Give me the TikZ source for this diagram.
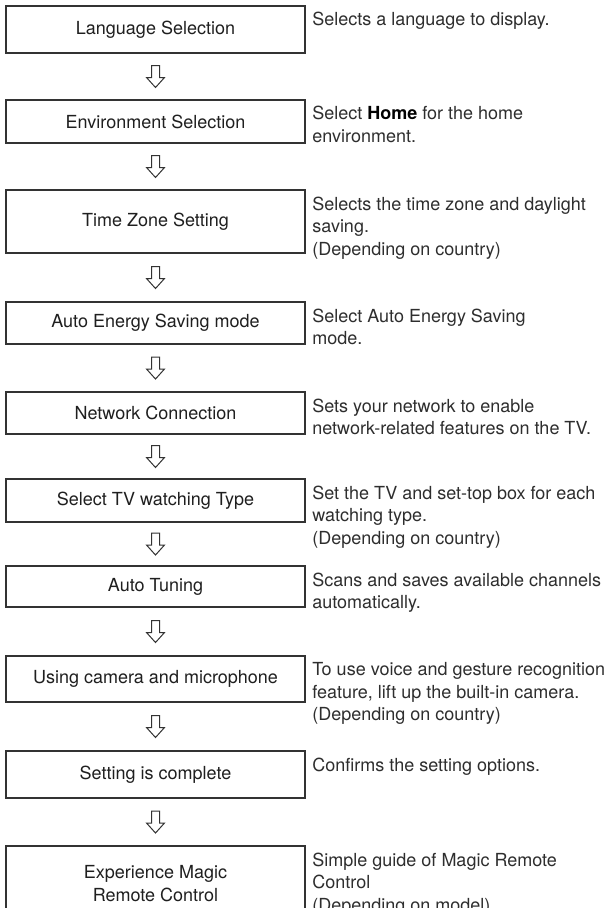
\documentclass[tikz,border=0pt]{standalone}
\usepackage{fontspec}
\setmainfont{TeX Gyre Heros}
\usetikzlibrary{calc}
\tikzset{
	stage/.style={draw=black!80, line width=1.3pt, minimum width=299pt, inner sep=0pt, align=center, text=black!88, font=\fontsize{18}{23}\selectfont},
	note/.style={anchor=north west, inner sep=0pt, align=left, text=black!82, font=\fontsize{18}{22.5}\selectfont, xshift=6.5pt, yshift=-7pt},
	hollowarrow/.pic={\draw[line width=1pt, color=black!80, fill=white, line join=miter] (-4,-11) -- (4,-11) -- (4,1) -- (9,1) -- (0,11) -- (-9,1) -- (-4,1) -- cycle;}
}
\def\flowarrow(#1)(#2){\path ($(#1.south)!0.5!(#2.north)$) pic {hollowarrow};}

\begin{document}
\begin{tikzpicture}[x=1pt, y=-1pt]
			%%%%% START %%%%%
			
			\useasboundingbox (0, 0) rectangle (615, 908);
			\clip (0, 0) rectangle (615, 908);
			\fill[white] (0, 0) rectangle (615, 908);
			
			\node[stage, minimum height=47pt] (lang) at (155.5, 29.5) {Language Selection};
			\node[note] (langnote) at (lang.north east) {Selects a language to display.};
			
			\node[stage, minimum height=43pt] (env) at (155.5, 121.5) {Environment Selection};
			\node[note] (envnote) at (env.north east) {Select {\color{black}\bfseries Home} for the home\\environment.};
			
			\node[stage, minimum height=63pt] (zone) at (155.5, 221.5) {Time Zone Setting};
			\node[note] (zonenote) at (zone.north east) {Selects the time zone and daylight\\saving.\\(Depending on country)};
			
			\node[stage, minimum height=42pt] (energy) at (155.5, 323) {Auto Energy Saving mode};
			\node[note] (energynote) at (energy.north east) {Select Auto Energy Saving\\mode.};
			
			\node[stage, minimum height=42pt] (net) at (155.5, 413) {Network Connection};
			\node[note] (netnote) at (net.north east) {Sets your network to enable\\network-related features on the TV.};
			
			\node[stage, minimum height=43pt] (watch) at (155.5, 500.5) {Select TV watching Type};
			\node[note] (watchnote) at (watch.north east) {Set the TV and set-top box for each\\watching type.\\(Depending on country)};
			
			\node[stage, minimum height=41pt] (tune) at (155.5, 586.5) {Auto Tuning};
			\node[note] (tunenote) at (tune.north east) {Scans and saves available channels\\automatically.};
			
			\node[stage, minimum height=46pt] (cam) at (155.5, 679) {Using camera and microphone};
			\node[note] (camnote) at (cam.north east) {To use voice and gesture recognition\\feature, lift up the built-in camera.\\(Depending on country)};
			
			\node[stage, minimum height=47pt] (done) at (155.5, 774.5) {Setting is complete};
			\node[note] (donenote) at (done.north east) {Confirms the setting options.};
			
			\node[stage, minimum height=75pt] (magic) at (155.5, 883.5) {Experience Magic\\Remote Control};
			\node[note] (magicnote) at (magic.north east) {Simple guide of Magic Remote\\Control\\(Depending on model)};
			
			\flowarrow(lang)(env);
			\flowarrow(env)(zone);
			\flowarrow(zone)(energy);
			\flowarrow(energy)(net);
			\flowarrow(net)(watch);
			\flowarrow(watch)(tune);
			\flowarrow(tune)(cam);
			\flowarrow(cam)(done);
			\flowarrow(done)(magic);
			
			%%%%% END %%%%%
\end{tikzpicture}
\end{document}
